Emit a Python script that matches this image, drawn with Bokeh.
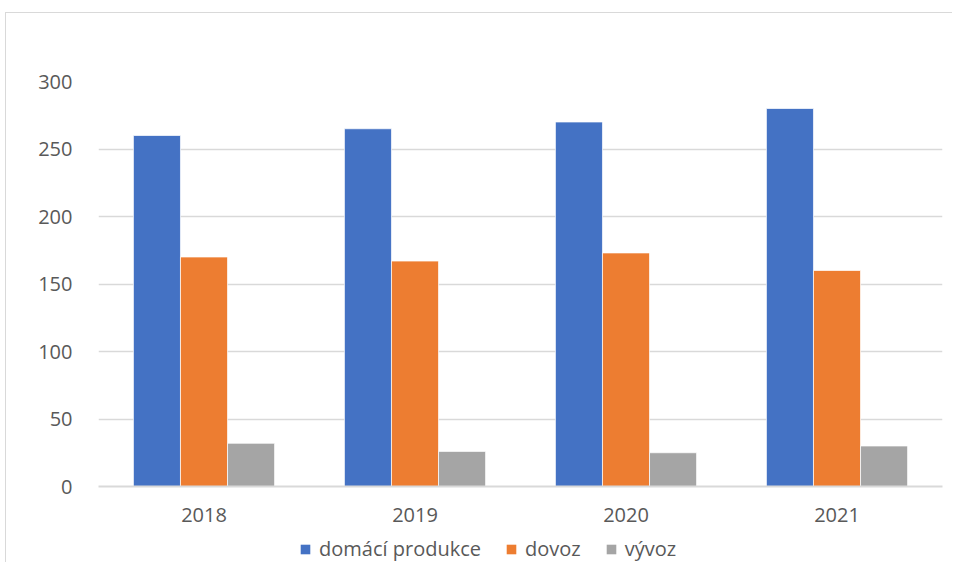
from bokeh.plotting import figure
from bokeh.models import (FactorRange, Range1d, Legend, LegendItem, SingleIntervalTicker,
                          ColumnDataSource)
from bokeh.layouts import column
from bokeh.transform import dodge
from bokeh.embed import file_html
from bokeh.resources import INLINE

years = ["2018", "2019", "2020", "2021"]
domaci = [260, 265, 270, 280]
dovoz = [170, 167, 173, 160]
vyvoz = [32, 26, 25, 30]
series_names = ["domácí produkce", "dovoz", "vývoz"]
colors = ["#4472C4", "#ED7D31", "#A5A5A5"]

src = ColumnDataSource(dict(years=years, domaci=domaci, dovoz=dovoz, vyvoz=vyvoz))

FONT = "Open Sans"
TXT = "#595959"

p = figure(x_range=FactorRange(*years, range_padding=0), y_range=Range1d(0, 300),
           frame_width=844, frame_height=405, output_backend="svg", toolbar_location=None,
           min_border_left=92, min_border_top=68, min_border_right=10, min_border_bottom=48)
p.outline_line_color = None

w = 0.223
p.vbar(x=dodge("years", -w, range=p.x_range), top="domaci", width=w, source=src,
       fill_color=colors[0], line_color="white", line_width=0.7)
p.vbar(x=dodge("years", 0, range=p.x_range), top="dovoz", width=w, source=src,
       fill_color=colors[1], line_color="white", line_width=0.7)
p.vbar(x=dodge("years", w, range=p.x_range), top="vyvoz", width=w, source=src,
       fill_color=colors[2], line_color="white", line_width=0.7)

p.xgrid.grid_line_color = None
p.ygrid.grid_line_color = "#d9d9d9"
p.ygrid.grid_line_width = 1.5
p.yaxis.ticker = SingleIntervalTicker(interval=50)

p.yaxis.axis_line_color = None
p.yaxis.major_tick_line_color = None
p.yaxis.minor_tick_line_color = None
p.yaxis.major_tick_out = 0
p.yaxis.major_label_standoff = 22
p.xaxis.axis_line_color = "#d9d9d9"
p.xaxis.axis_line_width = 2
p.xaxis.major_tick_line_color = None
p.xaxis.minor_tick_line_color = None
p.xaxis.major_tick_out = 0
p.xaxis.major_label_standoff = 21
for ax in (p.xaxis, p.yaxis):
    ax.major_label_text_font = FONT
    ax.major_label_text_font_size = "20px"
    ax.major_label_text_color = TXT

# legend strip
lg = figure(width=946, height=28, x_range=Range1d(0, 1), y_range=Range1d(0, 1),
            output_backend="svg", toolbar_location=None,
            x_axis_location=None, y_axis_location=None,
            min_border_left=0, min_border_right=0, min_border_top=0, min_border_bottom=0)
lg.outline_line_color = None
lg.grid.grid_line_color = None
items = []
for name, c in zip(series_names, colors):
    r = lg.vbar(x=[-5], top=[0], width=0.1, fill_color=c, line_color=None)
    items.append(LegendItem(label=name, renderers=[r]))
legend = Legend(items=items, orientation="horizontal", location=(201, 0),
                label_text_font=FONT, label_text_font_size="20px", label_text_color=TXT,
                glyph_width=12, glyph_height=12, spacing=24, label_standoff=8,
                label_height=20, padding=0, margin=0,
                border_line_color=None, background_fill_alpha=0)
lg.add_layout(legend, "center")

layout = column(p, lg, spacing=0)
layout.styles = {"border-left": "1.5px solid #d9d9d9", "border-top": "1.5px solid #d9d9d9",
                 "margin-left": "5px", "margin-top": "12px"}

open("out.html", "w").write(file_html(layout, INLINE))
